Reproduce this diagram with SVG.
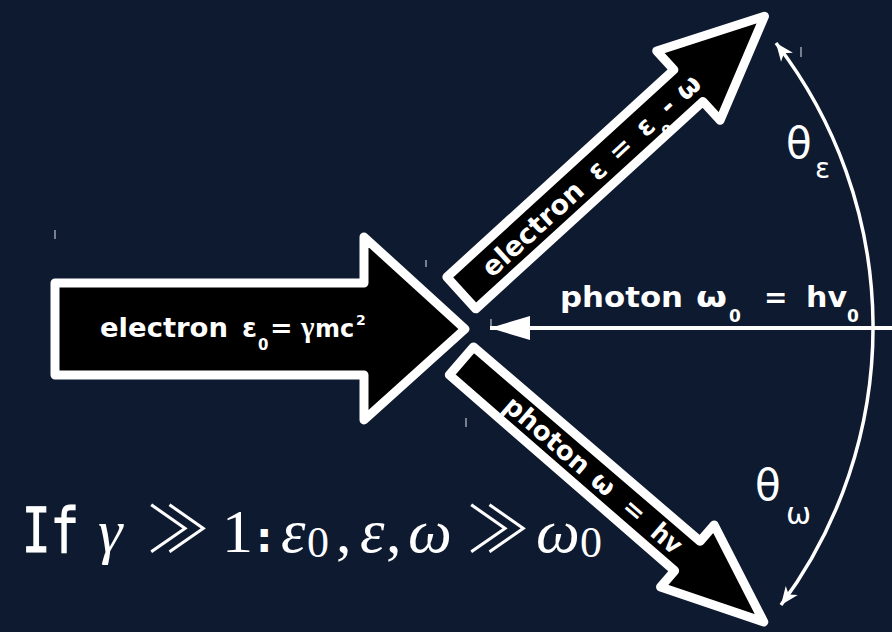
<svg xmlns="http://www.w3.org/2000/svg" width="892" height="632" viewBox="0 0 892 632">
  <defs>
    <marker id="arcHead" viewBox="0 0 20 16" refX="19" refY="8" markerWidth="20" markerHeight="16" markerUnits="userSpaceOnUse" orient="auto-start-reverse">
      <path d="M19 8 L1 0.5 L6 8 L1 15.5 Z" fill="#fff"/>
    </marker>
    <marker id="lineHead" viewBox="0 0 40 26" refX="40" refY="13" markerWidth="40" markerHeight="26" markerUnits="userSpaceOnUse" orient="auto">
      <path d="M0 1 L40 13 L0 25 Z" fill="#fff"/>
    </marker>
  </defs>
  <style>
    .big { fill: #000; stroke: #fff; stroke-width: 9; stroke-linejoin: round; }
    .lbl { fill: #fff; font-family: "DejaVu Sans", "Noto Sans", sans-serif; font-weight: bold; }
    .math { fill: #fff; font-family: "Liberation Serif", "DejaVu Serif", serif; }
    .mi { font-style: italic; }
    .gg { font-family: "Noto Sans CJK JP", "DejaVu Sans", sans-serif; font-weight: 300; font-style: normal; }
    .th { fill: #fff; font-family: "DejaVu Sans", "Noto Sans", sans-serif; }
    .tick { stroke: #9aa3b2; stroke-width: 1.5; }
    .conn { stroke: #fff; fill: none; }
  </style>
  <rect x="0" y="0" width="892" height="632" fill="#0e1a2f"/>

  <!-- small marks -->
  <g id="marks">
    <line class="tick" x1="55" y1="230" x2="55" y2="239"/>
    <line class="tick" x1="426" y1="260" x2="426" y2="267"/>
    <line class="tick" x1="466" y1="418" x2="466" y2="427"/>
    <line class="tick" x1="491" y1="319" x2="491" y2="326"/>
    <line class="tick" x1="801" y1="47" x2="801" y2="57"/>
  </g>

  <!-- incoming electron -->
  <g id="electron-in">
    <polygon class="big" points="55,283 364,283 364,237 465,329 364,420 364,375 55,375"/>
    <text class="lbl" font-size="27" y="337">
      <tspan x="100" textLength="128" lengthAdjust="spacingAndGlyphs">electron</tspan>
      <tspan x="242">ε</tspan>
      <tspan x="258" y="350" font-size="15">0</tspan>
      <tspan x="270" y="337">=</tspan>
      <tspan x="301" font-family="Liberation Serif, serif" font-size="29">γ</tspan>
      <tspan x="315" font-size="24">mc</tspan>
      <tspan x="356" y="325" font-size="14">2</tspan>
    </text>
  </g>

  <!-- outgoing electron -->
  <g id="electron-out" transform="translate(458,296) rotate(-42.4)">
    <polygon class="big" points="4.5,-21.5 312,-21.5 312,-47 415,0 312,47 312,21.5 4.5,21.5"/>
    <text class="lbl" font-size="27" y="10">
      <tspan x="37" textLength="127" lengthAdjust="spacingAndGlyphs">electron</tspan>
      <tspan x="180">ε</tspan>
      <tspan x="208">=</tspan>
      <tspan x="245">ε</tspan>
      <tspan x="261" y="25" font-size="16">0</tspan>
      <tspan x="277" y="10">-</tspan>
      <tspan x="299">ω</tspan>
    </text>
  </g>

  <!-- outgoing photon -->
  <g id="photon-out" transform="translate(458,358) rotate(40.8)">
    <polygon class="big" points="4.5,-18.5 303,-19.5 303,-41 404,0 303,41 303,19.5 4.5,18.5"/>
    <text class="lbl" font-size="26" y="9">
      <tspan x="66" textLength="104" lengthAdjust="spacingAndGlyphs">photon</tspan>
      <tspan x="181">ω</tspan>
      <tspan x="222">=</tspan>
      <tspan x="260" textLength="32" lengthAdjust="spacingAndGlyphs">hv</tspan>
    </text>
  </g>

  <!-- incoming photon label -->
  <g id="photon-in">
    <text class="lbl" font-size="28" y="307">
      <tspan x="560" textLength="123" lengthAdjust="spacingAndGlyphs">photon</tspan>
      <tspan x="696" textLength="31" lengthAdjust="spacingAndGlyphs">ω</tspan>
      <tspan x="729" y="322" font-size="17">0</tspan>
      <tspan x="764" y="307">=</tspan>
      <tspan x="806" textLength="41" lengthAdjust="spacingAndGlyphs">hv</tspan>
      <tspan x="847" y="322" font-size="17">0</tspan>
    </text>
  </g>

  <!-- angle labels -->
  <g id="theta-e">
    <text class="th" font-size="42" x="786" y="158">θ</text>
    <text class="th" font-size="28" x="815" y="178">ε</text>
  </g>
  <g id="theta-w">
    <text class="th" font-size="42" x="755" y="500">θ</text>
    <text class="th" font-size="30" x="786" y="524">ω</text>
  </g>

  <!-- condition -->
  <g id="condition">
    <text x="22" y="552" fill="#fff" stroke="#fff" stroke-width="1.2" font-family="DejaVu Sans Mono, monospace" font-size="62" textLength="57" lengthAdjust="spacingAndGlyphs">If</text>
    <text class="math" font-size="62" y="552">
      <tspan x="98" class="mi">γ</tspan>
      <tspan x="146" class="gg" font-size="64">≫</tspan>
      <tspan x="222">1</tspan>
    </text>
    <text x="251" y="552" fill="#fff" font-family="DejaVu Sans Mono, monospace" font-weight="bold" font-size="44">:</text>
    <text class="math" font-size="62" y="552">
      <tspan x="281" class="mi">ε</tspan>
      <tspan x="307" y="557" font-size="44">0</tspan>
      <tspan x="336" y="552">,</tspan>
      <tspan x="360" class="mi">ε</tspan>
      <tspan x="386">,</tspan>
      <tspan x="408" class="mi">ω</tspan>
      <tspan x="466" class="gg" font-size="64">≫</tspan>
      <tspan x="536" class="mi">ω</tspan>
      <tspan x="580" y="557" font-size="44">0</tspan>
    </text>
  </g>

  <!-- connectors -->
  <g id="connectors">
    <line class="conn" stroke-width="4" x1="892" y1="328" x2="490" y2="328" marker-end="url(#lineHead)"/>
    <path class="conn" stroke-width="3.5" d="M781 605 A465 465 0 0 0 776 43" marker-start="url(#arcHead)" marker-end="url(#arcHead)"/>
  </g>
</svg>
